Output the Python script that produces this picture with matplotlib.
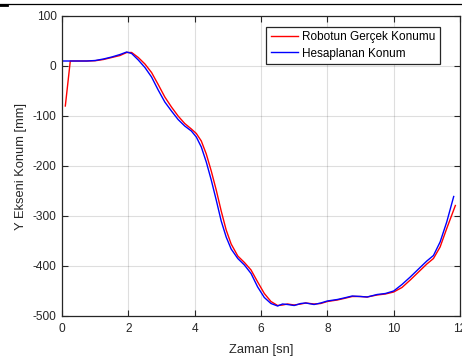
import numpy as np
import matplotlib.pyplot as plt
from matplotlib.lines import Line2D

plt.rcParams['font.family'] = ['Liberation Sans', 'DejaVu Sans']
plt.rcParams['axes.unicode_minus'] = False

# Hesaplanan Konum (blue)
t_hesap = [0.0, 0.25, 0.5, 0.75, 1.0, 1.25, 1.5, 1.75, 1.95, 2.1, 2.3, 2.5, 2.7, 2.9,
           3.1, 3.3, 3.5, 3.7, 3.9, 4.05, 4.2, 4.35, 4.5, 4.65, 4.8, 4.95, 5.1, 5.3,
           5.5, 5.7, 5.9, 6.1, 6.3, 6.5, 6.65, 6.8, 7.0, 7.2, 7.35, 7.6, 7.8, 8.0,
           8.3, 8.5, 8.75, 9.0, 9.2, 9.5, 9.75, 10.0, 10.25, 10.5, 10.75, 11.0,
           11.2, 11.4, 11.6, 11.81]
y_hesap = [10, 10, 10, 10, 11, 14, 18, 23, 28, 25, 12, -3, -22, -48,
           -72, -90, -107, -120, -130, -142, -162, -192, -228, -268, -310, -342, -366, -385,
           -398, -415, -442, -463, -475, -480, -476, -477, -479, -475, -474, -477, -474, -470,
           -467, -464, -460, -461, -462, -457, -455, -450, -437, -422, -406, -390,
           -379, -352, -312, -261]

# Robotun Gercek Konumu (red)
t_gercek = [0.1, 0.25, 0.5, 0.75, 1.0, 1.25, 1.5, 1.75, 1.95, 2.1, 2.3, 2.5, 2.7, 2.9,
            3.1, 3.3, 3.5, 3.7, 3.9, 4.05, 4.2, 4.35, 4.5, 4.65, 4.8, 4.95, 5.1, 5.3,
            5.5, 5.7, 5.9, 6.1, 6.3, 6.5, 6.65, 6.8, 7.0, 7.2, 7.35, 7.6, 7.8, 8.0,
            8.3, 8.5, 8.75, 9.0, 9.2, 9.5, 9.75, 10.0, 10.25, 10.5, 10.75, 11.0,
            11.2, 11.4, 11.6, 11.86]
y_gercek = [-80, 10, 10, 10, 10.5, 13, 17, 21, 27, 27, 17, 4, -13, -37,
            -62, -82, -100, -115, -126, -135, -150, -176, -210, -248, -290, -328, -356, -380,
            -393, -408, -432, -455, -471, -479, -478, -476, -478, -476, -474, -476, -475, -471,
            -468, -465, -461, -461, -462, -458, -456, -452, -443, -428, -412, -396,
            -385, -362, -325, -279]

x_ticks = [0, 2, 4, 6, 8, 10, 12]
y_ticks = [-500, -400, -300, -200, -100, 0, 100]

dark = (0.15, 0.15, 0.15)

fig = plt.figure(figsize=(4.62, 3.6), dpi=100)
ax = fig.add_axes([62 / 462, 1 - 316 / 360, 398 / 462, 300 / 360])

ax.plot(t_gercek, y_gercek, color='#ff0000', lw=1.0, label='Robotun Gerçek Konumu')
ax.plot(t_hesap, y_hesap, color='#0000ff', lw=1.0, label='Hesaplanan Konum')

ax.set_xlim(0, 12)
ax.set_ylim(-500, 100)
ax.set_xticks(x_ticks)
ax.set_yticks(y_ticks)
ax.grid(True, color=(0.15, 0.15, 0.15), alpha=0.15, lw=0.8)
ax.tick_params(direction='in', length=4, width=0.8, colors=dark, labelsize=8.6,
               top=True, right=True)
ax.tick_params(axis='x', pad=5)
ax.tick_params(axis='y', pad=4)
for s in ax.spines.values():
    s.set_color(dark)
    s.set_linewidth(0.9)

ax.set_xlabel('Zaman [sn]', fontsize=9.3, color=dark)
ax.set_ylabel('Y Ekseni Konum [mm]', fontsize=9.3, color=dark)
ax.xaxis.set_label_coords(0.501, -0.092)
ax.yaxis.set_label_coords(-0.088, 0.5)

leg = ax.legend(loc='upper right', bbox_to_anchor=(1 - 20 / 398, 1 - 10.7 / 300),
                borderaxespad=0, fontsize=8.5, handlelength=2.3, handletextpad=0.35,
                labelspacing=0.35, borderpad=0.4, fancybox=False, framealpha=1)
leg.get_frame().set_edgecolor(dark)
leg.get_frame().set_linewidth(0.9)

# black border remnant along the top of the image
fig.add_artist(Line2D([0, 1], [1 - 3.5 / 360, 1 - 3.5 / 360], color='black', lw=0.9,
                      transform=fig.transFigure))
fig.add_artist(Line2D([0, 7 / 462], [1 - 4.5 / 360, 1 - 4.5 / 360], color='black', lw=2,
                      transform=fig.transFigure))

fig.savefig('out.png', dpi=100)
